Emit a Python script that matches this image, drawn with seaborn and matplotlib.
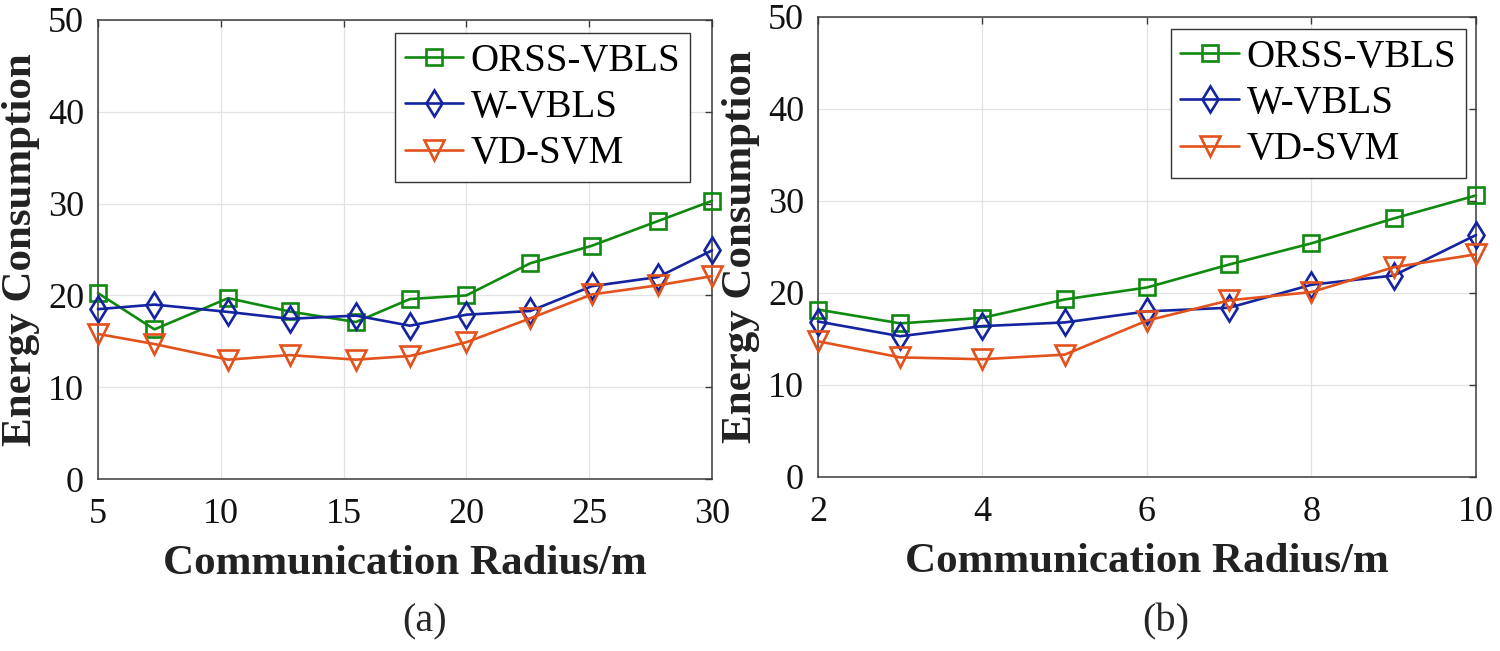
import matplotlib
matplotlib.use('Agg')
import matplotlib.pyplot as plt
import seaborn as sns

# dati
labels = ['ORSS-VBLS', 'W-VBLS', 'VD-SVM']

# (a) raggio 5-30 m
radius_a = [5, 7.3, 10.3, 12.8, 15.5, 17.7, 20, 22.6, 25.1, 27.8, 30]
orss_a = [20.25, 16.3, 19.7, 18.25, 17.1, 19.6, 20.0, 23.5, 25.4, 28.1, 30.3]
wvbls_a = [18.5, 19.0, 18.2, 17.45, 17.8, 16.7, 17.9, 18.3, 21.0, 22.0, 24.9]
vdsvm_a = [15.8, 14.7, 13.0, 13.5, 13.0, 13.4, 14.9, 17.5, 20.1, 21.1, 22.1]

# (b) raggio 2-10 m
radius_b = [2, 3, 4, 5, 6, 7, 8, 9, 10]
orss_b = [18.2, 16.7, 17.3, 19.3, 20.6, 23.1, 25.4, 28.1, 30.6]
wvbls_b = [16.9, 15.3, 16.4, 16.8, 18.0, 18.4, 20.9, 21.9, 26.3]
vdsvm_b = [14.75, 13.0, 12.8, 13.3, 17.0, 19.2, 20.1, 22.8, 24.2]

xticks_a = [5, 10, 15, 20, 25, 30]
xticks_b = [2, 4, 6, 8, 10]
yticks = [0, 10, 20, 30, 40, 50]

colors = ['#0f8a0f', '#1424a0', '#e2521c']
markers = ['s', 'd', 'v']
msizes = [11.5, 13.5, 15]

sns.set_theme(style='whitegrid')
plt.rcParams['font.family'] = ['Liberation Serif', 'DejaVu Serif']

fig = plt.figure(figsize=(15, 6.51), dpi=100)
ax_a = fig.add_axes([0.0653, 0.2642, 0.4094, 0.7051])
ax_b = fig.add_axes([0.5453, 0.2673, 0.4387, 0.7066])

# pannello, ascisse, serie, tick, limiti, angolo legenda (coord. figura)
panels = [
    (ax_a, radius_a, [orss_a, wvbls_a, vdsvm_a], xticks_a, (5, 30), (0.46, 0.9493)),
    (ax_b, radius_b, [orss_b, wvbls_b, vdsvm_b], xticks_b, (2, 10), (0.9773, 0.9555)),
]

for ax, xs, series, xt, xlim, anchor in panels:
    for ys, lab, c, m, ms in zip(series, labels, colors, markers, msizes):
        sns.lineplot(x=xs, y=ys, ax=ax, label=lab, color=c, marker=m,
                     markersize=ms, markeredgewidth=1.9, markeredgecolor=c,
                     markerfacecolor='none', linewidth=1.9, clip_on=False,
                     zorder=3)
    ax.set_xlim(*xlim)
    ax.set_ylim(0, 50)
    ax.set_xticks(xt)
    ax.set_yticks(yticks)
    ax.set_facecolor('white')
    ax.grid(True, color='#e2e2e2', linewidth=0.9)
    for sp in ax.spines.values():
        sp.set_visible(True)
        sp.set_color('#3a3a3a')
        sp.set_linewidth(1.1)
    ax.tick_params(direction='in', length=5, width=1, color='#3a3a3a',
                   top=True, right=True, labelsize=26, pad=10,
                   labelcolor='#111111')
    ax.tick_params(axis='x', pad=14)
    ax.set_xlabel('Communication Radius/m', fontsize=31, fontweight='bold',
                  color='#222222', labelpad=10)
    ax.set_ylabel('Energy Consumption', fontsize=31, fontweight='bold',
                  color='#222222', labelpad=6)
    leg = ax.legend(loc='upper right', bbox_to_anchor=anchor,
                    bbox_transform=fig.transFigure, borderaxespad=0,
                    fontsize=28, frameon=True, fancybox=False,
                    framealpha=1, edgecolor='#333333', handlelength=1.5,
                    handletextpad=0.2, borderpad=0.25, labelspacing=0.24)
    leg.get_frame().set_linewidth(1.0)
    for t in leg.get_texts():
        t.set_color('#000000')

fig.text(0.283, 0.044, '(a)', fontsize=29, ha='center', va='center')
fig.text(0.777, 0.044, '(b)', fontsize=29, ha='center', va='center')

fig.savefig('out.png', dpi=100, facecolor='white')
